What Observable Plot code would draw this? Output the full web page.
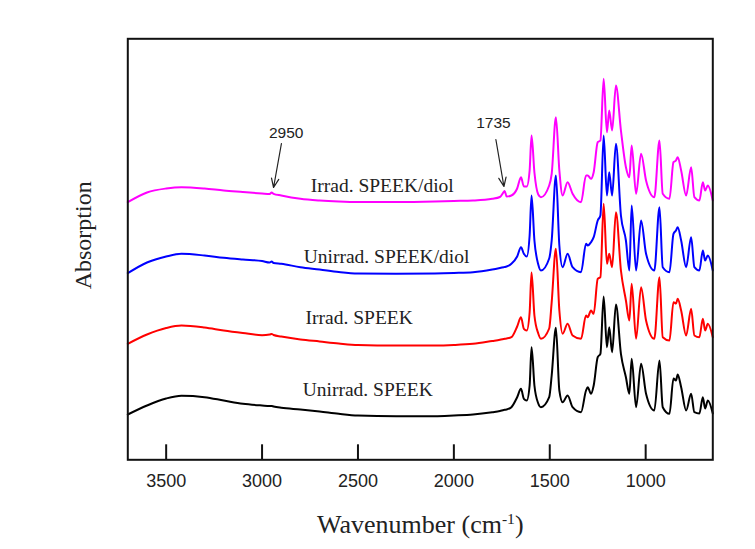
<!DOCTYPE html>
<html>
<head>
<meta charset="utf-8">
<script src="https://cdn.jsdelivr.net/npm/d3@7"></script>
<script src="https://cdn.jsdelivr.net/npm/@observablehq/plot@0.6"></script>
<style>
  html, body { margin: 0; padding: 0; background: #fff; }
  #chart { width: 755px; height: 549px; }
</style>
</head>
<body>
<div id="chart"></div>
<script>
// Wavenumber grid (cm-1), shared by all four spectra
const wavenumber = [3700,3600,3500,3420,3300,3200,3100,3000,2960,2950,2940,2900,2800,2700,2600,2500,2300,2100,2000,1900,1800,1760,1740,1735,1725,1700,1670,1650,1635,1620,1605,1595,1580,1560,1546,1503,1490,1468,1450,1433,1407,1381,1337,1311,1302,1285,1271,1250,1236,1219,1202,1190,1175,1155,1129,1103,1085,1073,1050,1024,998,955,928,911,876,855,842,833,815,789,763,746,720,702,690,676,650];

// Absorption (offset, arbitrary units)
const unirradSPEEK = [0.453,0.543,0.613,0.640,0.626,0.593,0.560,0.543,0.538,0.538,0.533,0.520,0.503,0.483,0.460,0.443,0.436,0.436,0.443,0.453,0.476,0.488,0.498,0.500,0.503,0.526,0.626,0.710,0.610,0.593,0.743,1.126,0.743,0.563,0.526,0.626,0.843,1.320,0.693,0.576,0.643,0.526,0.476,0.693,0.726,0.660,0.743,1.026,1.060,1.633,1.126,1.326,1.076,1.553,1.060,0.826,0.660,1.010,0.526,0.960,0.660,0.493,0.993,0.526,0.460,0.813,0.793,0.853,0.726,0.493,0.660,0.476,0.463,0.626,0.513,0.593,0.463];
const irradSPEEK = [1.160,1.253,1.318,1.343,1.323,1.293,1.268,1.246,1.253,1.258,1.248,1.233,1.203,1.183,1.163,1.148,1.143,1.143,1.148,1.160,1.188,1.200,1.208,1.210,1.213,1.226,1.333,1.426,1.310,1.293,1.473,1.873,1.443,1.263,1.210,1.313,1.576,2.110,1.493,1.260,1.360,1.243,1.210,1.443,1.426,1.493,1.460,1.810,1.826,2.560,1.960,2.060,1.926,2.476,1.893,1.593,1.393,1.760,1.210,1.726,1.393,1.210,1.826,1.226,1.193,1.576,1.563,1.610,1.493,1.243,1.510,1.243,1.226,1.410,1.293,1.360,1.226];
const unirradSPEEKdiol = [1.866,1.973,2.033,2.060,2.043,2.020,2.003,1.988,1.973,1.983,1.968,1.960,1.926,1.903,1.878,1.863,1.860,1.863,1.868,1.876,1.903,1.918,1.926,1.928,1.933,1.960,2.033,2.126,2.060,2.033,2.243,2.643,2.193,1.953,1.893,2.013,2.193,2.843,2.143,1.926,2.060,1.926,1.876,2.160,2.143,2.176,2.226,2.393,2.443,3.243,2.643,2.876,2.643,3.160,2.443,2.193,1.893,2.543,1.893,2.393,2.060,1.893,2.526,1.926,1.876,2.260,2.293,2.326,2.193,1.926,2.226,1.926,1.893,2.093,1.993,2.043,1.893];
const irradSPEEKdiol = [2.576,2.673,2.713,2.726,2.713,2.693,2.678,2.663,2.658,2.673,2.660,2.643,2.610,2.593,2.583,2.578,2.578,2.583,2.588,2.593,2.610,2.628,2.678,2.688,2.633,2.643,2.713,2.826,2.733,2.733,2.893,3.243,2.873,2.653,2.626,2.743,2.860,3.426,2.893,2.643,2.776,2.660,2.576,2.843,2.843,2.810,2.876,3.176,3.193,3.810,3.276,3.493,3.293,3.743,3.293,2.926,2.826,3.143,2.660,3.060,2.793,2.626,3.193,2.660,2.610,2.976,2.993,3.026,2.893,2.643,2.926,2.626,2.593,2.776,2.693,2.743,2.593];

const seriesNames = ["Unirrad. SPEEK", "Irrad. SPEEK", "Unirrad. SPEEK/diol", "Irrad. SPEEK/diol"];
const seriesValues = [unirradSPEEK, irradSPEEK, unirradSPEEKdiol, irradSPEEKdiol];
const seriesColors = ["#000000", "#ff0000", "#0000ff", "#ff00ff"];
// label anchor (wavenumber, absorption) for each curve label
const labelWavenumber = [2788, 2773, 2783, 2746];
const labelAbsorption = [0.703, 1.423, 2.026, 2.743];

const xTicks = [3500, 3000, 2500, 2000, 1500, 1000];

// annotations
const annotText = ["2950", "1735"];
const annotTextWn = [2874, 1794];
const annotTextA = [3.263, 3.363];
const arrowFromWn = [2899, 1781];
const arrowFromA = [3.163, 3.203];
const arrowToWn = [2940, 1739];
const arrowToA = [2.723, 2.733];

// y-axis title anchor (data coordinates, left of the frame)
const yTitle = {text: "Absorption", wn: 3931, a: 2.245};

const serif = "'Liberation Serif', 'Times New Roman', serif";
const sans = "'Liberation Sans', Arial, sans-serif";

const lineMarks = seriesValues.map((vals, i) =>
  Plot.line(wavenumber.map((w, j) => ({wn: w, a: vals[j]})), {
    x: "wn", y: "a", stroke: seriesColors[i], strokeWidth: 2, strokeLinejoin: "round", curve: "monotone-x"
  })
);

const labels = seriesNames.map((n, i) => ({name: n, wn: labelWavenumber[i], a: labelAbsorption[i]}));
const annots = annotText.map((t, i) => ({t, wn: annotTextWn[i], a: annotTextA[i]}));
const arrows = annotText.map((t, i) => ({x1: arrowFromWn[i], y1: arrowFromA[i], x2: arrowToWn[i], y2: arrowToA[i]}));

const chart = Plot.plot({
  width: 755,
  height: 549,
  marginLeft: 127.3,
  marginRight: 42.7,
  marginTop: 38.3,
  marginBottom: 89.7,
  x: {domain: [3700, 650]},
  y: {domain: [0, 4.21], axis: null},
  style: {background: "white", fontFamily: sans, color: "#222"},
  marks: [
    ...lineMarks,
    Plot.ruleX(xTicks, {y1: 0, y2: 0.15, stroke: "#111", strokeWidth: 2}),
    Plot.axisX(xTicks, {anchor: "bottom", tickSize: 0, tickPadding: 14, fontSize: 18, tickFormat: d => String(d), label: null, fill: "#222"}),
    Plot.frame({stroke: "#111", strokeWidth: 2}),
    Plot.text(labels, {x: "wn", y: "a", text: "name", textAnchor: "start", lineAnchor: "middle", fontSize: 19.5, fontFamily: serif, fill: "#222"}),
    Plot.text(annots, {x: "wn", y: "a", text: "t", textAnchor: "middle", lineAnchor: "middle", fontSize: 15.5, fontFamily: sans, fill: "#222"}),
    Plot.arrow(arrows, {x1: "x1", y1: "y1", x2: "x2", y2: "y2", stroke: "#222", strokeWidth: 1.2, headLength: 12, headAngle: 45}),
    Plot.text(["Wavenumber (cm-1)"], {frameAnchor: "bottom", dy: 64.4, lineAnchor: "middle", fontSize: 26, fontFamily: serif, fill: "#222"}),
    Plot.text([yTitle], {x: "wn", y: "a", text: "text", rotate: -90, textAnchor: "middle", lineAnchor: "middle", fontSize: 24, fontFamily: serif, fill: "#222"})
  ]
});

// superscript the -1 in the axis title
d3.select(chart).selectAll("text").each(function() {
  if (this.textContent === "Wavenumber (cm-1)") {
    const t = d3.select(this);
    t.text(null);
    t.append("tspan").text("Wavenumber (cm");
    t.append("tspan").attr("dy", "-0.55em").attr("font-size", "0.6em").text("-1");
    t.append("tspan").attr("dy", "0.33em").text(")");
  }
});

document.getElementById("chart").appendChild(chart);
</script>
</body>
</html>
